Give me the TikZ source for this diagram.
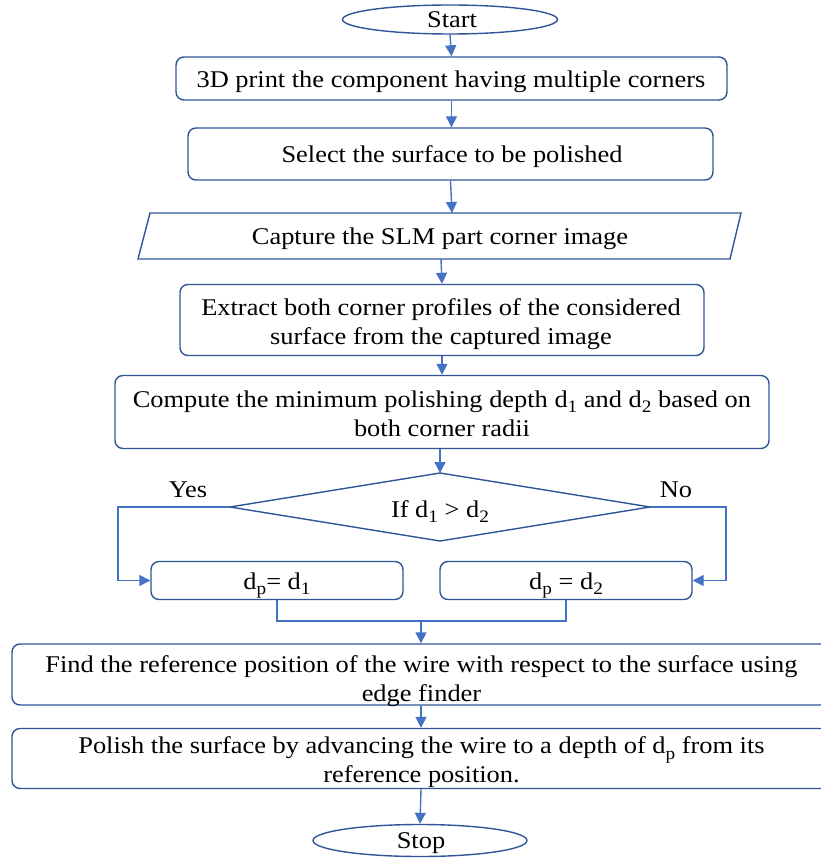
\documentclass[tikz,border=0pt]{standalone}
\usepackage{fontspec}
\setmainfont{Liberation Serif}[FakeStretch=1.1]
\usetikzlibrary{arrows.meta,shapes.geometric}
\definecolor{bord}{HTML}{2F5597}
\definecolor{conn}{HTML}{4472C4}
\newcommand{\sbx}[1]{\raisebox{-5.5pt}[0pt][0pt]{\fontsize{17.5}{17.5}\selectfont #1}}
\tikzset{
  box/.style={draw=bord, line width=1.4pt, rounded corners=8pt, inner sep=0pt},
  term/.style={draw=bord, line width=1.4pt, ellipse, inner sep=0pt},
  txt/.style={inner sep=0pt, align=center, font=\fontsize{24}{29}\selectfont},
  arr/.style={draw=conn, line width=1.4pt, -{Triangle[length=11pt,width=11pt]}},
  ln/.style={draw=conn, line width=1.4pt},
}
\begin{document}
\begin{tikzpicture}[x=1pt,y=-1pt]
\useasboundingbox (0,0) rectangle (820,858);
% frames
\node[term, minimum width=215pt, minimum height=29pt] (start) at (450,19.5) {};
\node[box, minimum width=551pt, minimum height=43pt] (b1) at (451.5,78.5) {};
\node[box, minimum width=525pt, minimum height=52pt] (b2) at (450.5,154) {};
\coordinate (ptl) at (150,213);
\coordinate (ptr) at (741,213);
\coordinate (pbr) at (730,259);
\coordinate (pbl) at (138,259);
\draw[draw=bord, line width=1.4pt] (ptl) -- (ptr) -- (pbr) -- (pbl) -- cycle;
\coordinate (capn) at (452,213);
\coordinate (caps) at (441,259);
\node[box, minimum width=524pt, minimum height=71pt] (b3) at (442,320) {};
\node[box, minimum width=654pt, minimum height=73pt] (b4) at (442,412) {};
\coordinate (dt) at (440,473);
\coordinate (dr) at (650,507);
\coordinate (db) at (440,541);
\coordinate (dl) at (230,507);
\draw[draw=bord, line width=1.4pt] (dt) -- (dr) -- (db) -- (dl) -- cycle;
\node[box, minimum width=252pt, minimum height=38pt] (b5) at (277,580.5) {};
\node[box, minimum width=252pt, minimum height=38pt] (b6) at (566,580.5) {};
\node[box, minimum width=818pt, minimum height=61pt] (b7) at (421,674.5) {};
\node[box, minimum width=818pt, minimum height=60pt] (b8) at (421,758.5) {};
\node[term, minimum width=214pt, minimum height=32pt] (stop) at (420,840.5) {};
% texts
\node[txt, anchor=base] (tstart) at (452,28) {Start};
\node[txt, anchor=base] (t1) at (451,88) {3D print the component having multiple corners};
\node[txt, anchor=base] (t2) at (452,163) {Select the surface to be polished};
\node[txt, anchor=base] (tcap) at (440,245) {Capture the SLM part corner image};
\node[txt, anchor=north] (t3) at (441,298.6) {Extract both corner profiles of the considered\\surface from the captured image};
\node[txt, anchor=north] (t4) at (442,390.6) {Compute the minimum polishing depth d\sbx{1} and d\sbx{2} based on\\both corner radii};
\node[txt, anchor=base] (tdec) at (440,517) {If d\sbx{1} > d\sbx{2}};
\node[txt, anchor=base] (yes) at (188,497) {Yes};
\node[txt, anchor=base] (no) at (676,497) {No};
\node[txt, anchor=base] (t5) at (277,589) {d\sbx{p}= d\sbx{1}};
\node[txt, anchor=base] (t6) at (566,589) {d\sbx{p} = d\sbx{2}};
\node[txt, anchor=north] (t7) at (421.5,655.6) {Find the reference position of the wire with respect to the surface using\\edge finder};
\node[txt, anchor=north] (t8) at (421.5,736.6) {Polish the surface by advancing the wire to a depth of d\sbx{p} from its\\reference position.};
\node[txt, anchor=base] (tstop) at (421,848) {Stop};
% connectors
\draw[arr] (start.south) -- (b1.north);
\draw[arr] (b1.south) -- (b1.south |- b2.north);
\draw[arr] (b2.south) -- (capn);
\draw[arr] (caps) -- (b3.north);
\draw[arr] (b3.south) -- (b3.south |- b4.north);
\draw[arr] (b4.south -| dt) -- (dt);
\coordinate (yl) at (118,507);
\coordinate (nr) at (726,507);
\draw[arr] (dl) -- (yl) |- (b5.west);
\draw[arr] (dr) -- (nr) |- (b6.east);
\coordinate (m) at (421,621);
\draw[ln] (b5.south) |- (m);
\draw[ln] (b6.south) |- (m);
\draw[arr] (m) -- (b7.north);
\draw[arr] (b7.south) -- (b8.north);
\draw[arr] (b8.south) -- (stop.north);
\end{tikzpicture}
\end{document}
